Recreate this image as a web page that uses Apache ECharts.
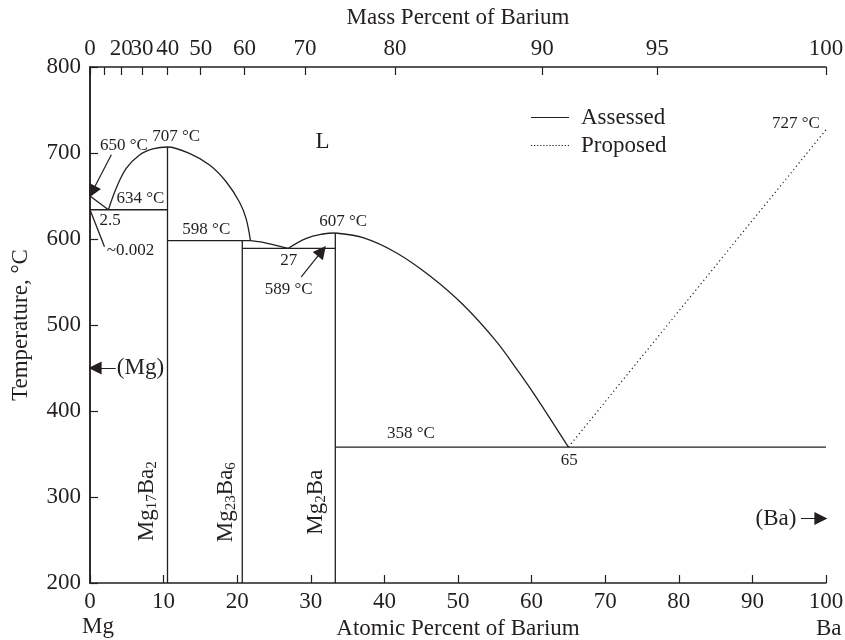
<!DOCTYPE html>
<html>
<head>
<meta charset="utf-8">
<script src="https://cdn.jsdelivr.net/npm/echarts@6/dist/echarts.min.js"></script>
<style>html,body{margin:0;padding:0;background:#fff}#main{width:845px;height:640px}</style>
</head>
<body>
<div id="main"></div>
<script>
var FONT = '"Liberation Serif", "DejaVu Serif", serif';
var INK = '#231f20';

// x = atomic percent Ba, y = temperature in °C
var liqMg = [[0, 650], [2.5, 634]];
var liqMg17Ba2 = [[2.5, 634], [3.56, 659], [4.92, 682], [6.73, 697.7], [8.54, 704.7], [10.53, 707],
  [13.5, 699.6], [16.25, 686], [18.5, 666.6], [20.3, 643], [21.2, 624], [21.8, 598]];
var liqMg23Ba6 = [[21.8, 598], [23.5, 596], [26.9, 589]];
var liqMg2BaL = [[26.9, 589], [29.4, 600.8], [31.65, 605.8], [33.33, 607]];
var liqMg2BaR = [[33.33, 607], [37.1, 601.5], [41.6, 584], [46.2, 557], [50.7, 523.5],
  [55.2, 481], [58.2, 446], [60.7, 415], [65, 358]];
var liqBa = [[65, 358], [100, 727]];           // proposed, dotted
var leader002 = [[0, 634], [1.97, 591]];

// isotherms: [from x, to x, T]
var isotherms = [[0, 10.53, 634], [10.53, 21.8, 598], [20.69, 33.33, 589], [33.33, 100, 358]];
// compounds: [x, top T]
var compounds = [[10.53, 707], [20.69, 598], [33.33, 607]];
var compoundNames = ['{m|Mg}{s|17}{m|Ba}{s|2}', '{m|Mg}{s|23}{m|Ba}{s|6}', '{m|Mg}{s|2}{m|Ba}'];
var compoundLabelAt = [[7.75, 295], [18.45, 294], [30.7, 294]];

// top axis: mass percent Ba
var massTicks = [0, 10, 20, 30, 40, 50, 60, 70, 80, 90, 95, 100];
var massLabels = [0, 20, 30, 40, 50, 60, 70, 80, 90, 95, 100];

// annotations: [text, x, T, fontSize]
var notes = [
  ['707 °C', 11.7, 719, 17], ['650 °C', 4.6, 709, 17], ['634 °C', 6.85, 647, 17],
  ['2.5', 2.75, 621, 17], ['~0.002', 5.5, 587, 17], ['598 °C', 15.8, 610.5, 17],
  ['27', 27.0, 575.5, 17], ['589 °C', 27.0, 541, 17], ['607 °C', 34.4, 620, 17],
  ['358 °C', 43.6, 374, 17], ['65', 65.1, 342, 17], ['727 °C', 95.9, 734.5, 17],
  ['L', 31.6, 713, 23], ['(Mg)', 6.85, 450, 23], ['(Ba)', 93.2, 275, 23]
];
// arrows: [[x1,T1],[x2,T2]] tip at second point
var arrows = [
  [[2.9, 698], [0.3, 655]],
  [[28.7, 556], [31.5, 586]],
  [[3.5, 450], [0.7, 450]],
  [[96.6, 275], [99.3, 275]]
];

function massToAtomic(w) {
  var a = w / 137.33, b = (100 - w) / 24.305;
  return a / (a + b) * 100;
}
function atomicToMass(x) {
  var a = x * 137.33, b = (100 - x) * 24.305;
  return a / (a + b) * 100;
}

var chart = echarts.init(document.getElementById('main'));
var lineBase = { type: 'line', symbol: 'none', silent: true, animation: false,
  lineStyle: { color: INK, width: 1.3 }, itemStyle: { color: INK } };
function solid(data, smooth) {
  return Object.assign({}, lineBase, { name: 'Assessed', data: data, smooth: smooth || false });
}

var series = [
  solid(liqMg), solid(liqMg17Ba2, 0.35), solid(liqMg23Ba6, 0.3), solid(liqMg2BaL, 0.4),
  solid(liqMg2BaR, 0.35), solid(leader002)
];
isotherms.forEach(function (h) { series.push(solid([[h[0], h[2]], [h[1], h[2]]])); });
compounds.forEach(function (c) { series.push(solid([[c[0], 200], [c[0], c[1]]])); });
series.push(Object.assign({}, lineBase, { name: 'Proposed', data: liqBa,
  lineStyle: { color: INK, width: 1.2, type: [1.2, 3] } }));

series.push({
  type: 'scatter', symbolSize: 0, silent: true, animation: false,
  itemStyle: { opacity: 1, color: INK },
  data: notes.map(function (n) {
    return { value: [n[1], n[2]], label: { show: true, position: 'inside', formatter: n[0],
      fontFamily: FONT, fontSize: n[3], color: INK, opacity: 1 } };
  }).concat(compounds.map(function (c, i) {
    return { value: compoundLabelAt[i], label: { show: true, position: 'inside', rotate: 90,
      formatter: compoundNames[i], color: INK, opacity: 1,
      rich: { m: { fontFamily: FONT, fontSize: 23, lineHeight: 26, color: INK },
        s: { fontFamily: FONT, fontSize: 15, lineHeight: 10, verticalAlign: 'bottom', color: INK } } } };
  }))
});

series.push({
  type: 'lines', coordinateSystem: 'cartesian2d', silent: true, animation: false,
  symbol: ['none', 'triangle'], symbolSize: [10, 13],
  lineStyle: { color: INK, width: 1.2, opacity: 1 },
  data: arrows.map(function (a) { return { coords: a }; })
});

var dots = '';
for (var i = 0; i < 13; i++) dots += 'M' + (i * 3) + ',0h1.2v1.2h-1.2z';
var axisText = { fontFamily: FONT, fontSize: 23, color: INK };
chart.setOption({
  animation: false,
  textStyle: { fontFamily: FONT },
  grid: { left: 90, right: 19, top: 67, bottom: 57, outerBoundsMode: 'none', containLabel: false },
  legend: {
    data: [{ name: 'Assessed', icon: 'path://M0,0h38v1.2h-38z' }, { name: 'Proposed', icon: 'path://' + dots }],
    orient: 'vertical', left: 526, top: 101,
    itemWidth: 38, itemHeight: 1.3, itemGap: 5, selectedMode: false,
    textStyle: { fontFamily: FONT, fontSize: 23, color: INK, padding: [0, 0, 0, 7] }
  },
  xAxis: [{
    type: 'value', min: 0, max: 100, interval: 10, position: 'bottom',
    name: 'Atomic Percent of Barium', nameLocation: 'middle', nameGap: 34,
    nameTextStyle: axisText,
    axisLine: { lineStyle: { color: INK, width: 1.5 } },
    axisTick: { inside: true, length: 8, lineStyle: { color: INK, width: 1.2 } },
    axisLabel: Object.assign({ margin: 7 }, axisText),
    splitLine: { show: false }
  }, {
    type: 'value', min: 0, max: 100, position: 'top',
    name: 'Mass Percent of Barium', nameLocation: 'middle', nameGap: 38,
    nameTextStyle: axisText,
    axisLine: { lineStyle: { color: INK, width: 1.5 } },
    axisTick: { inside: true, length: 8, lineStyle: { color: INK, width: 1.2 },
      customValues: massTicks.map(massToAtomic) },
    axisLabel: Object.assign({ margin: 7, customValues: massLabels.map(massToAtomic),
      formatter: function (v) { return String(Math.round(atomicToMass(v))); } }, axisText),
    splitLine: { show: false }
  }],
  yAxis: [{
    type: 'value', min: 200, max: 800, interval: 100,
    name: 'Temperature, °C', nameLocation: 'middle', nameGap: 58, nameRotate: 90,
    nameTextStyle: axisText,
    axisLine: { show: true, lineStyle: { color: INK, width: 1.5 } },
    axisTick: { show: true, inside: true, length: 8, lineStyle: { color: INK, width: 1.2 } },
    axisLabel: Object.assign({ margin: 9 }, axisText),
    splitLine: { show: false }
  }, {
    type: 'value', min: 200, max: 800, interval: 100, position: 'right',
    axisLine: { show: true, lineStyle: { color: INK, width: 1.5 } },
    axisTick: { show: false }, axisLabel: { show: false }, splitLine: { show: false }
  }],
  graphic: [
    { type: 'text', left: 82, top: 615, style: { text: 'Mg', font: '23px ' + FONT, fill: INK } },
    { type: 'text', left: 816, top: 617, style: { text: 'Ba', font: '23px ' + FONT, fill: INK } }
  ],
  series: series
});
</script>
</body>
</html>
